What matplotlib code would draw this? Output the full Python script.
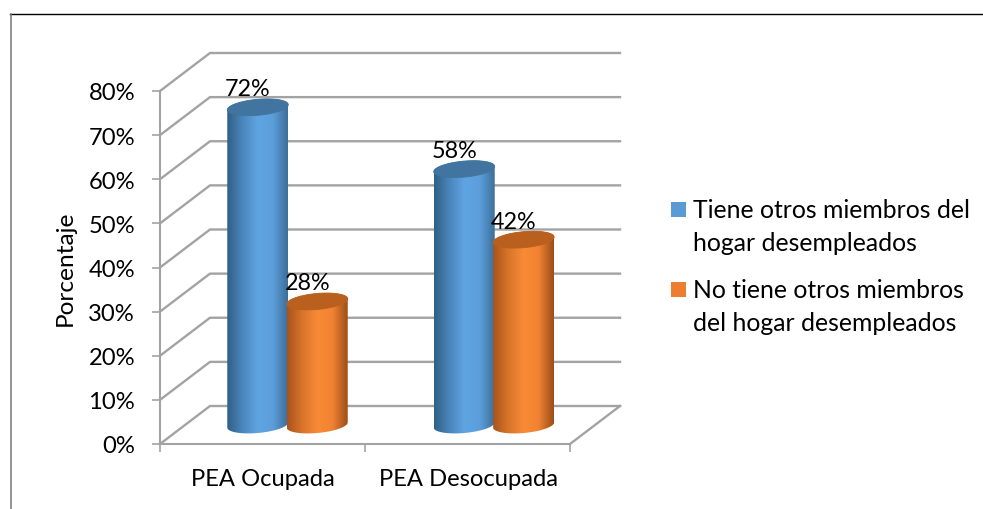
import numpy as np
import matplotlib
matplotlib.use('Agg')
import matplotlib.pyplot as plt
from matplotlib.colors import LinearSegmentedColormap
from matplotlib.lines import Line2D
from matplotlib.patches import PathPatch, Rectangle
from matplotlib.path import Path

plt.rcParams['font.family'] = ['Lato', 'DejaVu Sans']

categories = ['PEA Ocupada', 'PEA Desocupada']
series_names = ['Tiene otros miembros del\nhogar desempleados',
                'No tiene otros miembros\ndel hogar desempleados']
tiene = [72, 58]
no_tiene = [28, 42]
y_ticks = [0, 10, 20, 30, 40, 50, 60, 70, 80]

W, H = 983, 510
fig = plt.figure(figsize=(W / 100, H / 100), dpi=100)
fig.patch.set_facecolor('white')

# ejes en pixeles de la imagen
left, right, top, bottom = 160, 570, 92, 445
ax = fig.add_axes([left / W, 1 - bottom / H, (right - left) / W, (bottom - top) / H])
ax.set_xlim(0, 2)
ax.set_ylim(0, 80)
ax.patch.set_alpha(0)
ppx = (right - left) / 2
ppy = (bottom - top) / 80

# profundidad del grafico 3D
depth_x = 50 / ppx
depth_y = 38 / ppy
grid_c = '#a3a3a3'

for v in y_ticks:
    ax.plot([0, depth_x, 2 + depth_x], [v, v + depth_y, v + depth_y],
            color=grid_c, lw=1.7, clip_on=False, zorder=1)
ax.plot([2, 2 + depth_x], [0, depth_y], color=grid_c, lw=1.7, clip_on=False, zorder=1)

for s in ['top', 'right']:
    ax.spines[s].set_visible(False)
for s in ['left', 'bottom']:
    ax.spines[s].set_color(grid_c)
    ax.spines[s].set_linewidth(1.5)
    ax.spines[s].set_zorder(2)

ax.set_yticks(y_ticks)
ax.set_yticklabels([f'{v}%' for v in y_ticks], va='center_baseline')
ax.set_xticks([0, 1, 2])
ax.set_xticklabels([])
ax.tick_params(axis='both', color=grid_c, width=1.2, length=6, labelsize=17.1,
               labelcolor='black')
ax.tick_params(axis='y', pad=12)
for i, c in enumerate(categories):
    ax.annotate(c, (i + 0.5, 0), xytext=(0 if i == 0 else 0.5, -25), xycoords='data',
                textcoords='offset points', ha='center', va='center', fontsize=17.1)
ax.set_ylabel('Porcentaje', fontsize=17.6, labelpad=9)


def cylinder(x, v, colors, cap_color, label, z):
    cx = x + depth_x / 2
    base = depth_y / 2
    a = 30.5 / ppx
    b = 8 / ppy
    k = 2.6 / ppy
    t1 = np.linspace(np.pi, 2 * np.pi, 60)
    t2 = np.linspace(0, np.pi, 60)
    yt = v + base

    bx = cx + a * np.cos(t1)
    by = base + b * np.sin(t1) + k * np.cos(t1)
    ux = cx + a * np.cos(t2)
    uy = yt + b * np.sin(t2) + k * np.cos(t2)
    body = Path(np.vstack([np.c_[bx, by], np.c_[ux, uy], [[bx[0], by[0]]]]), closed=True)
    patch = PathPatch(body, fc='none', ec='none', zorder=z)
    ax.add_patch(patch)

    cmap = LinearSegmentedColormap.from_list('c', colors)
    grad = np.linspace(0, 1, 256).reshape(1, -1)
    im = ax.imshow(grad, cmap=cmap, extent=(cx - a, cx + a, -5, 90), aspect='auto',
                   zorder=z, interpolation='bilinear')
    im.set_clip_path(patch)

    t = np.linspace(0, 2 * np.pi, 120)
    cap = np.c_[cx + a * np.cos(t), yt + b * np.sin(t) + k * np.cos(t)]
    ax.add_patch(PathPatch(Path(cap, closed=True), fc=cap_color, ec=cap_color, lw=0.6,
                           zorder=z + 0.1, clip_on=False))
    ax.annotate(label, (cx, yt), xytext=(-7.2, 13.4), textcoords='offset points',
                ha='center', va='center', fontsize=16.8, zorder=z + 0.2)


blue = ['#2f6086', '#4a85bb', '#5fa4e2', '#5c9edb', '#3d6f9a']
orange = ['#a9531b', '#d8742a', '#f98a36', '#f08232', '#9c4d19']
group_x = [0.5, 1.507]
offs = [-0.145, 0.145]
z = 3
for i in range(len(categories)):
    cylinder(group_x[i] + offs[0], tiene[i], blue, '#41759f', f'{tiene[i]}%', z)
    cylinder(group_x[i] + offs[1], no_tiene[i], orange, '#b9601f', f'{no_tiene[i]}%', z + 1)
    z += 2

ax.set_xlim(0, 2)
ax.set_ylim(0, 80)

# leyenda
for name, col, ly in zip(series_names, ['#5b9bd5', '#ed7d31'], [210.5, 290.5]):
    fig.add_artist(Rectangle((671 / W, 1 - (ly + 7.5) / H), 15 / W, 15 / H, fc=col, ec='none',
                             transform=fig.transFigure))
    fig.text(693 / W, 1 - (ly - 11.5) / H, name, fontsize=17.8, va='top', ha='left',
             linespacing=1.53)

# marco de la hoja
fig.add_artist(Line2D([10 / W, 1], [1 - 14.5 / H, 1 - 14.5 / H], color='black', lw=1))
fig.add_artist(Line2D([10.8 / W, 10.8 / W], [0, 1 - 14.5 / H], color='#777777', lw=1.1))

fig.savefig('out.png', dpi=100)
